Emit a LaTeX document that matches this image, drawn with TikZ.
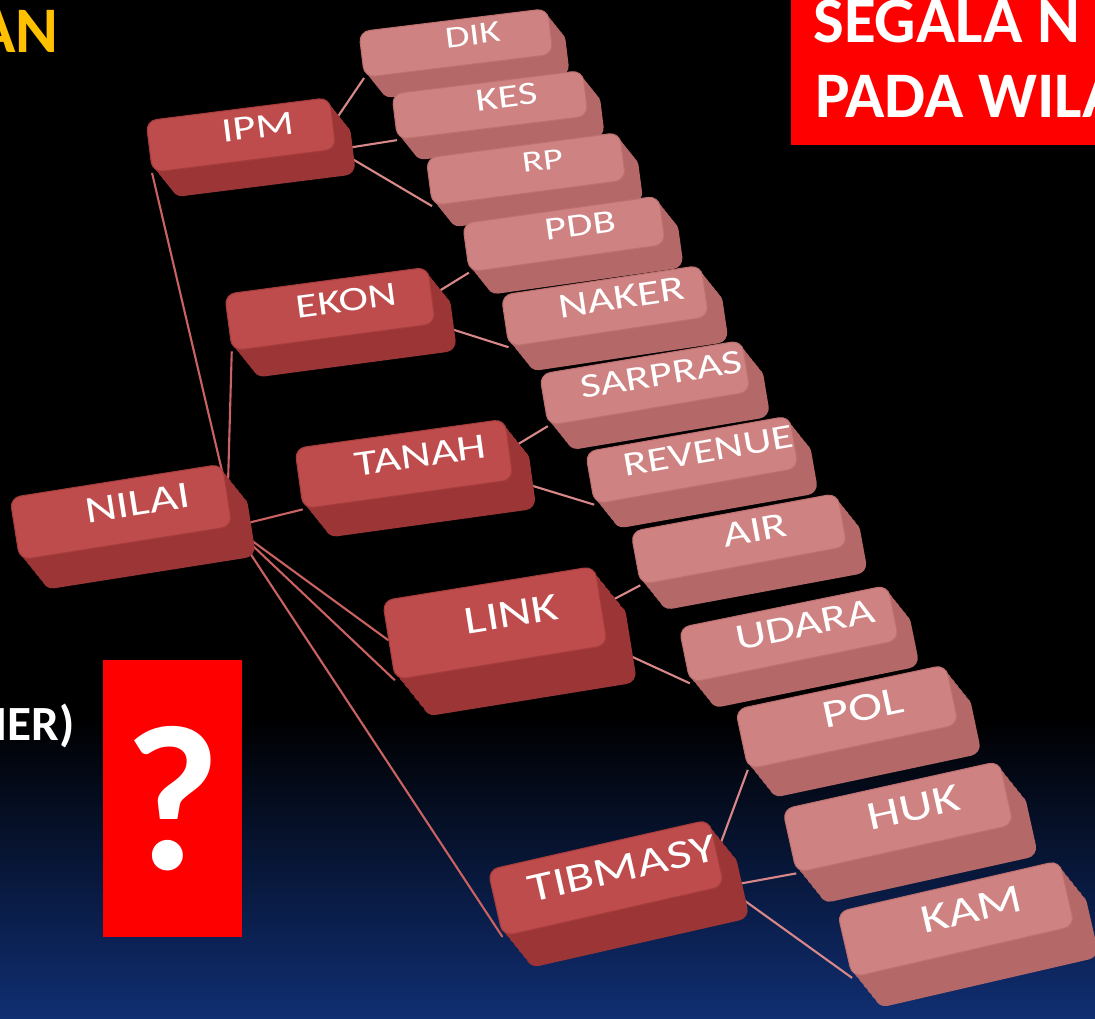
\documentclass[tikz,border=0pt]{standalone}
\usepackage{fontspec}
\setmainfont{Carlito}
\newfontfamily\capfont[FakeStretch=1.3]{Carlito}
\usetikzlibrary{shadows}

% colours
\definecolor{bgblue}{RGB}{16,46,114}
\definecolor{gold}{RGB}{255,192,0}
\definecolor{boxred}{RGB}{255,0,0}
\definecolor{hubtop}{RGB}{190,76,76}
\definecolor{hubside}{RGB}{156,54,54}
\definecolor{hubedge}{RGB}{166,60,60}
\definecolor{leaftop}{RGB}{207,130,130}
\definecolor{leafside}{RGB}{180,104,104}
\definecolor{leafedge}{RGB}{188,112,112}
\definecolor{wirepink}{RGB}{216,136,136}
\definecolor{wirered}{RGB}{202,98,98}

\pgfdeclarelayer{backdrop}
\pgfdeclarelayer{wires}
\pgfsetlayers{backdrop,wires,main}

\begin{document}
\begin{tikzpicture}[
    x=0.02cm, y=-0.02cm,
    % label sits a little up and to the right on the key face
    keycap/.style={rectangle, rounded corners=6pt, inner sep=0pt, line width=0.6pt, text=white,
        execute at begin node={\hspace*{0.7cm}\raise0.24cm\hbox\bgroup},
        execute at end node={\egroup}},
    hub/.style={keycap, fill=hubtop, draw=hubedge},
    leaf/.style={keycap, fill=leaftop, draw=leafedge},
    % the side of a key: the face pushed down and right in six steps
    wall/.style 2 args={
        general shadow={fill=#1, shadow xshift=0.8*#2, shadow yshift=-#2},
        general shadow={fill=#1, shadow xshift=0.667*#2, shadow yshift=-0.833*#2},
        general shadow={fill=#1, shadow xshift=0.533*#2, shadow yshift=-0.667*#2},
        general shadow={fill=#1, shadow xshift=0.4*#2, shadow yshift=-0.5*#2},
        general shadow={fill=#1, shadow xshift=0.267*#2, shadow yshift=-0.333*#2},
        general shadow={fill=#1, shadow xshift=0.133*#2, shadow yshift=-0.167*#2}},
    hubwall/.style={wall={hubside}{#1}},
    leafwall/.style={wall={leafside}{#1}},
    capsize/.style={font=\capfont\fontsize{#1}{#1}\selectfont},
    wire/.style={draw=wirepink, line width=1.2pt},
    hubwire/.style={draw=wirered, line width=1.2pt},
    headline/.style={font=\bfseries\fontsize{37}{37}\selectfont, inner sep=0pt},
    redbox/.style={fill=boxred, inner sep=0pt},
]
\useasboundingbox (0,0) rectangle (1095,1018);
\clip (0,0) rectangle (1095,1018);

% Backdrop
\begin{pgfonlayer}{backdrop}
    \fill[black] (0,0) rectangle (1095,722);
    \shade[top color=black, bottom color=bgblue] (0,720) rectangle (1095,1018);
\end{pgfonlayer}

% Right column of keys
\node[leaf, leafwall=0.42cm, capsize=17.5, rotate=7, minimum width=3.8cm, minimum height=0.92cm] (dik) at (456,43) {DIK};
\node[leaf, leafwall=0.42cm, capsize=18.5, rotate=7, minimum width=3.84cm, minimum height=0.92cm] (kes) at (490,105) {KES};
\node[leaf, leafwall=0.44cm, capsize=17, rotate=7.5, minimum width=3.9cm, minimum height=0.96cm] (rp) at (526,169) {RP};
\node[leaf, leafwall=0.46cm, capsize=18.5, rotate=8, minimum width=3.96cm, minimum height=0.98cm] (pdb) at (564,234) {PDB};
\node[leaf, leafwall=0.5cm, capsize=20, rotate=8.5, minimum width=4.04cm, minimum height=1.04cm] (naker) at (605,306) {NAKER};
\node[leaf, leafwall=0.5cm, capsize=19.5, rotate=9.5, minimum width=4.1cm, minimum height=1.04cm] (sarpras) at (645,383) {SARPRAS};
\node[leaf, leafwall=0.5cm, capsize=19.5, rotate=10, minimum width=4.14cm, minimum height=1.06cm] (revenue) at (692,460) {REVENUE};
\node[leaf, leafwall=0.52cm, capsize=20.5, rotate=10.5, minimum width=4.2cm, minimum height=1.08cm] (air) at (739,539) {AIR};
\node[leaf, leafwall=0.52cm, capsize=21, rotate=11.5, minimum width=4.26cm, minimum height=1.12cm] (udara) at (789,634) {UDARA};
\node[leaf, leafwall=0.58cm, capsize=22.5, rotate=12, minimum width=4.3cm, minimum height=1.22cm] (pol) at (847,717) {POL};
\node[leaf, leafwall=0.62cm, capsize=23, rotate=12.5, minimum width=4.44cm, minimum height=1.3cm] (huk) at (898,817) {HUK};
\node[leaf, leafwall=0.62cm, capsize=23, rotate=13, minimum width=4.56cm, minimum height=1.34cm] (kam) at (956,919) {KAM};

% Middle keys and root
\node[hub, hubwall=0.5cm, capsize=19.5, rotate=7.2, minimum width=3.7cm, minimum height=1.04cm] (ipm) at (241,135) {IPM};
\node[hub, hubwall=0.54cm, capsize=19.5, rotate=7.6, minimum width=4.1cm, minimum height=1.14cm] (ekon) at (330,309) {EKON};
\node[hub, hubwall=0.58cm, capsize=20.5, rotate=7.9, minimum width=4.24cm, minimum height=1.22cm] (tanah) at (404,464) {TANAH};
\node[hub, hubwall=0.74cm, capsize=22.5, rotate=9.2, minimum width=4.3cm, minimum height=1.6cm] (link) at (495,623) {LINK};
\node[hub, hubwall=0.64cm, capsize=23, rotate=12.8, minimum width=4.3cm, minimum height=1.36cm] (tibmasy) at (606,878) {TIBMASY};
\node[hub, hubwall=0.6cm, capsize=21.5, rotate=9, minimum width=4.3cm, minimum height=1.26cm] (nilai) at (121,512) {NILAI};

% Connectors
\begin{pgfonlayer}{wires}
    \draw[hubwire] (nilai.east) -- (ipm.south west);
    \draw[hubwire] (nilai.east) -- (ekon.south west);
    \draw[hubwire] (nilai.south east) -- (tanah.south west);
    \draw[hubwire] (nilai.south east) -- (link.west);
    \draw[hubwire] (nilai.south east) -- (link.south west);
    \draw[hubwire] (nilai.south east) -- (tibmasy.south west);
    \draw[wire] (ipm.east) -- (dik.south west);
    \draw[wire] (ipm.south east) -- (kes.south west);
    \draw[wire] (ipm.south east) -- (rp.south west);
    \draw[wire] (ekon.east) -- (pdb.south west);
    \draw[wire] (ekon.south east) -- (naker.south west);
    \draw[wire] (tanah.east) -- (sarpras.south west);
    \draw[wire] (tanah.south east) -- (revenue.south west);
    \draw[wire] (link.east) -- (air.south west);
    \draw[wire] (link.south east) -- (udara.south west);
    \draw[wire] (tibmasy.east) -- (pol.south west);
    \draw[wire] (tibmasy.south east) -- (huk.south west);
    \draw[wire] (tibmasy.south east) -- (kam.south west);
\end{pgfonlayer}

% Headings and boxes
\node[headline, text=gold, anchor=base east] (titleleft) at (59,52) {AN};
\node[redbox, anchor=north west, minimum width=6.2cm, minimum height=2.9cm] (notebox) at (791,0) {};
\node[headline, text=white, anchor=base west] (notetop) at (813,42) {SEGALA N};
\node[headline, text=white, anchor=base west] (notebottom) at (815,117) {PADA WILA};
\node[headline, text=white, anchor=base east, font=\bfseries\fontsize{28}{28}\selectfont] (sidenote) at (75,740) {IER)};
\node[redbox, anchor=north west, minimum width=2.78cm, minimum height=5.54cm] (askbox) at (103,660) {};
\node[text=white, font=\bfseries\fontsize{118}{118}\selectfont, inner sep=0pt] (askmark) at (askbox.center) {?};

\end{tikzpicture}
\end{document}
